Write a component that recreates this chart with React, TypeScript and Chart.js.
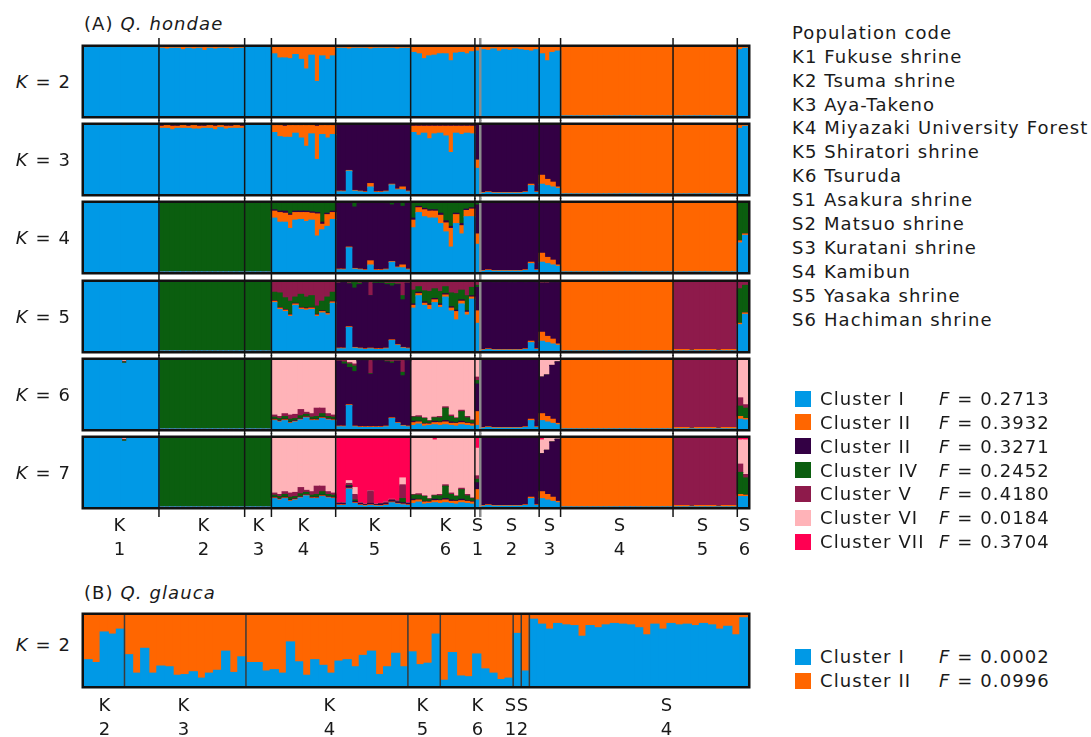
import React, { useEffect, useRef } from "react";
import { Chart, registerables } from "chart.js";

Chart.register(...registerables);

// ---------------- DATA ----------------
const CLUSTER_NAMES = ["Cluster I", "Cluster II", "Cluster II", "Cluster IV", "Cluster V", "Cluster VI", "Cluster VII"];
const CLUSTER_F = ["0.2713", "0.3932", "0.3271", "0.2452", "0.4180", "0.0184", "0.3704"];
const CLUSTER_COLORS = ["#0099e6", "#ff6600", "#330044", "#0b5e0f", "#8e1a4b", "#ffb3b8", "#ff0052"];

const POP_A = ["K1", "K2", "K3", "K4", "K5", "K6", "S1", "S2", "S3", "S4", "S5", "S6"];
const POP_A_SIZES = [14, 16, 5, 12, 14, 12, 1, 11, 4, 21, 12, 2];
const POP_CODES = [
  "K1 Fukuse shrine", "K2 Tsuma shrine", "K3 Aya-Takeno", "K4 Miyazaki University Forest",
  "K5 Shiratori shrine", "K6 Tsuruda", "S1 Asakura shrine", "S2 Matsuo shrine",
  "S3 Kuratani shrine", "S4 Kamibun", "S5 Yasaka shrine", "S6 Hachiman shrine",
];

// per panel: dominant cluster of each population (takes the remainder to 100 %)
// explicit arrays: percent membership per individual, grouped by population
const DOM_K2 = [0, 0, 0, 0, 0, 0, 0, 0, 0, 1, 1, 0];
const K2_II = [
  [1, 0, 1, 0, 0, 1, 0, 0, 1, 0, 0, 1, 0, 1],
  [2, 3, 2, 2, 4, 2, 3, 2, 5, 2, 3, 2, 2, 3, 2, 2],
  [0, 0, 0, 0, 1],
  [10, 16, 16, 17, 11, 18, 32, 12, 50, 13, 18, 13],
  [2, 2, 3, 2, 2, 2, 3, 2, 2, 2, 2, 3, 2, 2],
  [8, 10, 17, 13, 12, 10, 10, 20, 9, 8, 10, 7],
  [6],
  [4, 5, 3, 6, 4, 5, 3, 4, 5, 6, 4],
  [10, 20, 8, 6],
  [], [], [4, 2],
];

const DOM_K3 = [0, 0, 0, 0, 2, 0, 2, 2, 2, 1, 1, 0];
const K3_I = [[], [], [], [], [3, 3, 33, 4, 3, 2, 10, 2, 2, 3, 13, 6, 6, 3], [], [37], [1, 2, 1, 1, 1, 1, 1, 1, 2, 12, 2], [14, 12, 10, 8], [], [], []];
const K3_II = [
  [0, 0, 1, 0, 0, 0, 0, 1, 0, 0, 0, 0, 1, 0],
  [3, 4, 5, 3, 4, 3, 5, 4, 3, 4, 5, 3, 4, 3, 4, 3],
  [],
  [10, 16, 16, 17, 11, 18, 30, 12, 48, 13, 18, 13],
  [1, 1, 1, 1, 1, 1, 5, 1, 1, 1, 1, 1, 4, 1],
  [9, 13, 10, 18, 11, 10, 14, 38, 10, 12, 10, 11],
  [12],
  [1, 1, 1, 1, 1, 1, 1, 1, 1, 2, 1],
  [13, 9, 7, 2],
  [], [], [4, 2],
];
const K3_III = [[], [2, 1, 2, 2, 1, 2, 1, 2, 2, 1, 2, 1, 2, 2, 1, 2], [], [1, 1, 2, 1, 1, 1, 1, 1, 2, 1, 1, 1], [], [2, 2, 2, 2, 2, 2, 2, 2, 2, 2, 2, 2], [], [], [], [], [], [1, 0]];

const DOM_K4 = [0, 3, 3, 0, 2, 0, 2, 2, 2, 1, 1, 0];
const K4_I = [[], [], [], [], [3, 3, 35, 4, 3, 2, 10, 2, 2, 3, 14, 6, 6, 3], [], [40], [1, 2, 1, 1, 1, 1, 1, 1, 2, 12, 2], [14, 12, 10, 8], [], [], []];
const K4_II = [
  [], [], [],
  [10, 14, 13, 19, 11, 10, 13, 10, 32, 8, 17, 10],
  [1, 1, 1, 1, 1, 1, 6, 1, 1, 1, 1, 1, 4, 1],
  [11, 7, 10, 10, 10, 12, 13, 27, 13, 12, 9, 11],
  [15],
  [1, 1, 1, 1, 1, 1, 1, 1, 1, 2, 1],
  [13, 9, 7, 2],
  [], [], [3, 2],
];
const K4_III = [[], [], [], [2, 2, 3, 2, 2, 2, 2, 2, 2, 3, 2, 2], [], [3, 2, 2, 2, 2, 3, 3, 3, 2, 3, 2, 2], [], [], [], [], [], []];
const K4_IV = [
  [0, 0, 0, 0, 0, 1], [], [],
  [10, 12, 12, 16, 12, 12, 12, 13, 14, 28, 15, 12],
  [0, 0, 0, 6, 1, 0, 0, 0, 0, 1, 3, 0, 5, 0],
  [22, 5, 8, 10, 10, 15, 26, 34, 15, 30, 9, 7],
  [3], [], [], [], [], [55, 45],
];

const DOM_K5 = [0, 3, 3, 4, 2, 4, 2, 2, 2, 1, 4, 0];
const K5_I = [
  [], [], [],
  [70, 60, 57, 50, 66, 60, 59, 60, 50, 55, 52, 69],
  [3, 3, 34, 4, 3, 2, 3, 2, 2, 3, 15, 8, 4, 3],
  [62, 80, 66, 60, 70, 63, 78, 58, 45, 68, 52, 75],
  [40],
  [1, 2, 1, 1, 1, 1, 1, 1, 2, 12, 2],
  [14, 12, 10, 8],
  [], [], [],
];
const K5_II = [
  [], [], [],
  [2, 2, 2, 2, 2, 2, 2, 2, 2, 2, 2, 2],
  [1, 1, 1, 1, 1, 1, 1, 1, 1, 1, 1, 1, 1, 1],
  [4, 3, 3, 6, 4, 3, 3, 4, 12, 4, 4, 3],
  [18],
  [1, 1, 1, 1, 1, 1, 1, 1, 1, 2, 1],
  [13, 9, 7, 2],
  [],
  [2, 2, 2, 1, 2, 2, 2, 2, 1, 2, 2, 2],
  [2, 2],
];
const K5_III = [[], [], [], [1, 1, 1, 1, 1, 1, 1, 1, 1, 1, 1, 1], [], [2, 2, 2, 2, 2, 2, 2, 2, 2, 2, 2, 2], [], [], [], [], [], []];
const K5_IV = [
  [], [], [],
  [12, 21, 17, 19, 9, 19, 16, 17, 12, 14, 23, 13],
  [0, 0, 1, 8, 2, 0, 0, 1, 1, 2, 4, 1, 6, 0],
  [20, 8, 16, 18, 14, 18, 10, 20, 24, 14, 22, 12],
  [3], [], [], [], [], [50, 40],
];
const K5_V = [
  [], [], [], [],
  [2, 1, 2, 1, 2, 1, 20, 1, 1, 2, 2, 3, 20, 2],
  [],
  [5],
  [1, 0, 1, 1, 0, 1, 1, 0, 1, 0, 1],
  [2, 2, 1, 1],
  [], [], [10, 5],
];

const DOM_K6 = [0, 3, 3, 5, 2, 5, 2, 2, 2, 1, 4, 5];
const K6_I = [
  [], [], [],
  [12, 10, 12, 8, 10, 13, 16, 12, 12, 15, 13, 12],
  [3, 3, 34, 3, 2, 2, 2, 2, 2, 3, 15, 8, 4, 3],
  [5, 7, 4, 5, 6, 5, 6, 5, 4, 6, 5, 4],
  [5],
  [1, 2, 1, 1, 1, 1, 1, 1, 2, 12, 2],
  [12, 10, 8, 6],
  [], [], [14, 13],
];
const K6_II = [
  [], [], [],
  [1, 1, 1, 1, 1, 1, 1, 1, 1, 1, 1, 1],
  [1, 1, 1, 1, 1, 1, 1, 1, 1, 1, 1, 1, 1, 1],
  [4, 3, 3, 2, 3, 4, 4, 3, 4, 3, 3, 3],
  [20],
  [1, 1, 1, 1, 1, 1, 1, 1, 1, 2, 1],
  [10, 8, 6, 2],
  [],
  [2, 2, 2, 1, 2, 2, 2, 2, 1, 2, 2, 2],
  [4, 2],
];
const K6_III = [[], [], [], [1, 1, 1, 1, 1, 1, 1, 1, 1, 1, 1, 1], [], [2, 1, 1, 1, 2, 1, 2, 2, 1, 2, 1, 1], [], [], [], [], [], []];
const K6_IV = [
  [0, 0, 0, 0, 0, 0, 0, 2], [], [],
  [3, 3, 4, 4, 3, 4, 3, 3, 4, 5, 3, 3],
  [0, 3, 5, 8, 0, 0, 1, 0, 0, 1, 2, 0, 5, 0],
  [6, 6, 7, 3, 5, 6, 18, 8, 6, 14, 7, 4],
  [5], [], [], [], [], [15, 15],
];
const K6_V = [
  [0, 0, 0, 0, 0, 0, 0, 1], [], [],
  [3, 3, 4, 6, 6, 9, 3, 5, 12, 8, 4, 3],
  [2, 3, 2, 3, 1, 1, 20, 1, 1, 2, 3, 2, 18, 1],
  [1, 2, 1, 1, 1, 2, 2, 2, 1, 2, 2, 1],
  [5], [], [], [], [], [12, 5],
];
const K6_VI = [[0, 0, 0, 0, 0, 0, 0, 2], [], [], [], [0, 0, 4, 6], [], [25], [], [25, 22, 8, 3], [], [], []];

const DOM_K7 = [0, 3, 3, 5, 6, 5, 2, 2, 2, 1, 4, 5];
const K7_I = [
  [], [], [],
  [12, 10, 12, 8, 10, 13, 16, 12, 12, 15, 13, 12],
  [2, 2, 26, 5, 2, 1, 2, 1, 1, 2, 6, 4, 3, 2],
  [5, 7, 4, 5, 6, 5, 6, 5, 4, 6, 5, 4],
  [10],
  [1, 2, 1, 1, 1, 1, 1, 1, 2, 12, 2],
  [12, 10, 8, 6],
  [], [], [15, 15],
];
const K7_II = [
  [], [], [],
  [1, 1, 1, 1, 1, 1, 1, 1, 1, 1, 1, 1],
  [1, 1, 1, 1, 1, 1, 1, 1, 1, 1, 1, 1, 1, 1],
  [4, 3, 3, 2, 3, 4, 4, 3, 4, 3, 3, 3],
  [15],
  [1, 1, 1, 1, 1, 1, 1, 1, 1, 2, 1],
  [10, 8, 6, 2],
  [],
  [2, 2, 2, 1, 2, 2, 2, 2, 1, 2, 2, 2],
  [3, 2],
];
const K7_III = [[], [], [], [1, 1, 1, 1, 1, 1, 1, 1, 1, 1, 1, 1], [2, 2, 3, 2, 2, 1, 2, 1, 2, 2, 2, 2, 2, 2], [2, 1, 1, 1, 2, 1, 2, 2, 1, 2, 1, 1], [], [], [], [], [], []];
const K7_IV = [
  [0, 0, 0, 0, 0, 0, 0, 2], [], [],
  [3, 3, 4, 4, 3, 4, 3, 3, 4, 5, 3, 3],
  [0, 0, 1, 2, 0, 0, 0, 0, 0, 0, 0, 0, 6, 0],
  [6, 6, 7, 3, 5, 6, 18, 8, 6, 14, 7, 4],
  [5], [], [], [], [], [32, 25],
];
const K7_V = [
  [0, 0, 0, 0, 0, 0, 0, 1], [], [],
  [3, 3, 4, 6, 6, 9, 3, 5, 12, 8, 4, 3],
  [1, 1, 3, 8, 1, 1, 18, 1, 1, 2, 2, 2, 20, 1],
  [1, 2, 1, 1, 1, 2, 2, 2, 1, 2, 2, 1],
  [5], [], [], [], [], [12, 5],
];
const K7_VI = [[0, 0, 0, 0, 0, 0, 0, 2], [], [], [], [0, 0, 4, 10, 0, 0, 0, 0, 0, 0, 0, 0, 10, 0], [], [40], [], [20, 18, 6, 2], [], [], []];
const K7_VII = [[], [], [], [], [], [0, 0, 0, 0, 3], [15], [], [3], [], [], [3, 3]];

// Q. glauca
const POP_B = ["K2", "K3", "K4", "K5", "K6", "S1", "S2", "S4"];
const POP_B_SIZES = [5, 15, 20, 4, 9, 1, 1, 27];
const DOM_B = [1, 1, 1, 1, 1, 1, 1, 1];
const B_I = [
  [37, 33, 76, 73, 80],
  [44, 18, 53, 18, 28, 27, 15, 16, 20, 11, 18, 22, 49, 19, 41],
  [33, 33, 21, 23, 18, 62, 34, 15, 37, 29, 18, 35, 37, 27, 43, 49, 16, 27, 46, 27],
  [48, 30, 32, 73],
  [8, 47, 14, 13, 45, 24, 18, 9, 11],
  [74],
  [21],
  [94, 87, 80, 88, 86, 85, 70, 85, 82, 86, 88, 87, 86, 82, 72, 87, 80, 88, 86, 87, 85, 88, 86, 80, 84, 72, 96],
];
const B_F = ["0.0002", "0.0996"];

const PANELS_A = [
  { k: 2, dom: DOM_K2, explicit: [null, K2_II] },
  { k: 3, dom: DOM_K3, explicit: [K3_I, K3_II, K3_III] },
  { k: 4, dom: DOM_K4, explicit: [K4_I, K4_II, K4_III, K4_IV] },
  { k: 5, dom: DOM_K5, explicit: [K5_I, K5_II, K5_III, K5_IV, K5_V] },
  { k: 6, dom: DOM_K6, explicit: [K6_I, K6_II, K6_III, K6_IV, K6_V, K6_VI] },
  { k: 7, dom: DOM_K7, explicit: [K7_I, K7_II, K7_III, K7_IV, K7_V, K7_VI, K7_VII] },
];

// ---------------- LAYOUT ----------------
const FONT = "'DejaVu Sans', Verdana, sans-serif";
const TEXT = "#1a1a1a";
const LS = "1.1px";
const PLOT_L = 84;
const PLOT_R = 748;
const CANVAS_L = 72;
const CANVAS_W = 686;
const A_TOPS = [45, 123, 201, 280, 358, 436];
const A_H = 73;
const A_LABEL_X = [120, 204, 259, 304, 375, 446, 478, 512, 550, 620, 703, 745];
const B_LABEL_X = [105, 184, 330, 423, 478, 511, 523, 667];

function compose(sizes: number[], dom: number[], explicit: any[], k: number): number[][] {
  const out: number[][] = [];
  for (let c = 0; c < k; c++) out.push([]);
  sizes.forEach((n, p) => {
    for (let j = 0; j < n; j++) {
      let s = 0;
      for (let c = 0; c < k; c++) {
        if (c === dom[p]) continue;
        const arr = explicit[c];
        const v = arr && arr[p] && arr[p][j] !== undefined ? arr[p][j] : 0;
        out[c].push(v);
        s += v;
      }
      out[dom[p]].push(Math.max(0, 100 - s));
    }
  });
  return out;
}

const decorPlugin = {
  id: "decor",
  afterDatasetsDraw(chart: any, _args: any, opts: any) {
    const { ctx, chartArea: a } = chart;
    const x = chart.scales.x;
    ctx.save();
    let cum = 0;
    opts.sizes.forEach((n: number, p: number) => {
      cum += n;
      if (p === opts.sizes.length - 1) return;
      const px = x.getPixelForValue(cum - 0.5);
      const st = opts.lineStyle(p);
      ctx.strokeStyle = st.color;
      ctx.lineWidth = st.width;
      ctx.beginPath();
      ctx.moveTo(px, opts.full ? 0 : a.top);
      ctx.lineTo(px, opts.full ? chart.height : a.bottom);
      ctx.stroke();
    });
    ctx.strokeStyle = "#111";
    ctx.lineWidth = 2.5;
    ctx.strokeRect(a.left - 1.25, a.top - 1.25, a.right - a.left + 2.5, a.bottom - a.top + 2.5);
    ctx.restore();
  },
};

function StructurePanel(props: {
  top: number; height: number; padTop: number; padBottom: number;
  sizes: number[]; dom: number[]; explicit: any[]; k: number; full: boolean;
  lineStyle: (p: number) => { color: string; width: number };
}) {
  const ref = useRef<HTMLCanvasElement>(null);
  useEffect(() => {
    const values = compose(props.sizes, props.dom, props.explicit, props.k);
    const labels = values[0].map((_, i) => String(i + 1));
    const chart = new Chart(ref.current as HTMLCanvasElement, {
      type: "bar",
      data: {
        labels,
        datasets: values.map((d, c) => ({
          label: CLUSTER_NAMES[c],
          data: d,
          backgroundColor: CLUSTER_COLORS[c],
          borderWidth: 0,
          barPercentage: 1,
          categoryPercentage: 1,
          inflateAmount: 0.6,
        })),
      },
      options: {
        responsive: false,
        animation: false,
        events: [],
        layout: { padding: { left: PLOT_L - CANVAS_L, right: CANVAS_L + CANVAS_W - PLOT_R, top: props.padTop, bottom: props.padBottom } },
        plugins: {
          legend: { display: false },
          tooltip: { enabled: false },
          decor: { sizes: props.sizes, full: props.full, lineStyle: props.lineStyle },
        } as any,
        scales: {
          x: { stacked: true, display: false },
          y: { stacked: true, display: false, min: 0, max: 100 },
        },
      },
      plugins: [decorPlugin as any],
    });
    return () => chart.destroy();
  }, []);
  return (
    <canvas
      ref={ref}
      width={CANVAS_W}
      height={props.height}
      style={{ position: "absolute", left: CANVAS_L, top: props.top, width: CANVAS_W, height: props.height }}
    />
  );
}

function Txt(props: { x: number; base: number; align?: "left" | "right" | "center"; children: any }) {
  const align = props.align || "left";
  const w = 300;
  const left = align === "left" ? props.x : align === "right" ? props.x - w : props.x - w / 2;
  return (
    <div
      style={{
        position: "absolute", left, top: props.base - 17.2, width: align === "left" ? undefined : w,
        textAlign: align, fontFamily: FONT, fontSize: 18, lineHeight: "22px", whiteSpace: "nowrap", color: TEXT,
        letterSpacing: LS,
      }}
    >
      {props.children}
    </div>
  );
}

export default function App() {
  const aStyle = (p: number) => (p === 6 ? { color: "#8c8c8c", width: 2.5 } : { color: "#151515", width: 1.5 });
  const bStyle = (_p: number) => ({ color: "#3a3a3a", width: 1.5 });
  return (
    <div style={{ position: "absolute", left: 0, top: 0, width: 1091, height: 737, background: "#fff", overflow: "hidden" }}>
      <Txt x={84} base={30.5}>(A) <i>Q. hondae</i></Txt>
      {PANELS_A.map((pn, i) => {
        const T = A_TOPS[i];
        const cTop = i === 0 ? 38 : T - 3;
        const cBot = i === PANELS_A.length - 1 ? T + A_H + 8 : T + A_H + 3;
        return (
          <React.Fragment key={pn.k}>
            <StructurePanel
              top={cTop}
              height={cBot - cTop}
              padTop={T + 2 - cTop}
              padBottom={cBot - (T + A_H - 2)}
              sizes={POP_A_SIZES}
              dom={pn.dom}
              explicit={pn.explicit}
              k={pn.k}
              full={true}
              lineStyle={aStyle}
            />
            <Txt x={71} base={T + 43} align="right"><i>K</i> = {pn.k}</Txt>
          </React.Fragment>
        );
      })}
      {POP_A.map((p, i) => (
        <React.Fragment key={p}>
          <Txt x={A_LABEL_X[i]} base={531.5} align="center">{p[0]}</Txt>
          <Txt x={A_LABEL_X[i]} base={555.5} align="center">{p.slice(1)}</Txt>
        </React.Fragment>
      ))}

      <Txt x={792} base={39}>Population code</Txt>
      {POP_CODES.map((s, i) => (
        <Txt key={s} x={792} base={39 + 23.9 * (i + 1)}>{s}</Txt>
      ))}

      {CLUSTER_NAMES.map((n, i) => (
        <React.Fragment key={i}>
          <div style={{ position: "absolute", left: 795, top: 390.5 + 23.9 * i, width: 16, height: 16, background: CLUSTER_COLORS[i] }} />
          <Txt x={820} base={405 + 23.9 * i}>{n}</Txt>
          <Txt x={939} base={405 + 23.9 * i}><i>F</i> = {CLUSTER_F[i]}</Txt>
        </React.Fragment>
      ))}

      <Txt x={84} base={599}>(B) <i>Q. glauca</i></Txt>
      <StructurePanel
        top={605}
        height={90}
        padTop={10}
        padBottom={9}
        sizes={POP_B_SIZES}
        dom={DOM_B}
        explicit={[B_I, null]}
        k={2}
        full={false}
        lineStyle={bStyle}
      />
      <Txt x={71} base={651} align="right"><i>K</i> = 2</Txt>
      {POP_B.map((p, i) => (
        <React.Fragment key={p}>
          <Txt x={B_LABEL_X[i]} base={711.5} align="center">{p[0]}</Txt>
          <Txt x={B_LABEL_X[i]} base={735.5} align="center">{p.slice(1)}</Txt>
        </React.Fragment>
      ))}
      {[0, 1].map((i) => (
        <React.Fragment key={"b" + i}>
          <div style={{ position: "absolute", left: 795, top: 649 + 23.9 * i, width: 16, height: 16, background: CLUSTER_COLORS[i] }} />
          <Txt x={820} base={663.5 + 23.9 * i}>{CLUSTER_NAMES[i]}</Txt>
          <Txt x={939} base={663.5 + 23.9 * i}><i>F</i> = {B_F[i]}</Txt>
        </React.Fragment>
      ))}
    </div>
  );
}
